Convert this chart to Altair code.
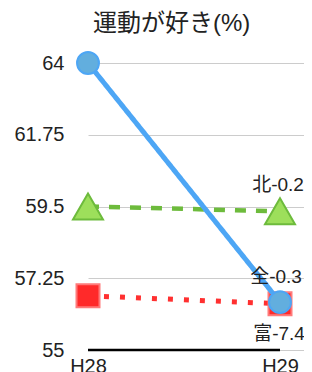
import altair as alt
import pandas as pd

years = ["H28", "H29"]
zen = [64.0, 56.5]
kita = [59.5, 59.35]
tomi = [56.7, 56.45]
labels = {"全": "全-0.3", "北": "北-0.2", "富": "富-7.4"}
y_ticks = [55, 57.25, 59.5, 61.75, 64]

FONT = "Liberation Sans, Noto Sans CJK JP"
idx = list(range(len(years)))


def frame(vals, name):
    return pd.DataFrame({
        "i": idx,
        "year": years,
        "v": vals,
        "series": name,
        "label": ["", labels[name]],
    })


label_expr = f"datum.value == 0 ? '{years[0]}' : '{years[1]}'"

x_enc = alt.X(
    "i:Q",
    scale=alt.Scale(domain=[0, 216 / 192], nice=False, zero=False),
    axis=alt.Axis(values=idx, labelExpr=label_expr, grid=False, domain=False,
                  ticks=False, labelFontSize=20, labelPadding=6, title=None,
                  labelColor="#222", labelFont=FONT, labelFlush=False),
)
y_enc = alt.Y(
    "v:Q",
    scale=alt.Scale(domain=[y_ticks[0], y_ticks[-1]], nice=False, zero=False),
    axis=alt.Axis(values=y_ticks, format=".2~f", grid=True, gridColor="#cccccc",
                  gridWidth=1, domain=False, ticks=False, labelFontSize=20,
                  labelPadding=24, title=None, labelColor="#222", labelFont=FONT),
)


def series_layers(df, color, dash, width, shape, size, fill, stroke, dy, dx):
    base = alt.Chart(df).encode(x=x_enc, y=y_enc)
    line = base.mark_line(color=color, strokeWidth=width, strokeDash=dash,
                          strokeCap="butt")
    pts = base.mark_point(shape=shape, size=size, filled=True, fill=fill,
                          stroke=stroke, strokeWidth=2, opacity=1,
                          fillOpacity=1, strokeOpacity=1)
    txt = base.transform_filter("datum.label != ''").mark_text(
        fontSize=19, font=FONT, dy=dy, dx=dx, color="#222"
    ).encode(text="label:N")
    return [line, pts, txt]


rule_df = pd.DataFrame({"x0": [idx[0]], "x1": [idx[-1]], "y": [y_ticks[0]]})
rule = alt.Chart(rule_df).mark_rule(color="#000000", strokeWidth=2.5).encode(
    x=alt.X("x0:Q"), x2="x1:Q", y=alt.Y("y:Q")
)

layers = []
layers += series_layers(frame(tomi, "富"), "#ff3030", [5, 11], 5, "square", 529,
                        "#ff2a2a", "#ff7a7a", 30, -1)
layers += series_layers(frame(kita, "北"), "#6dbb3c", [11, 10], 4.5, "triangle-up", 900,
                        "#9ddf5b", "#6dbb3c", -26, -2)
layers += series_layers(frame(zen, "全"), "#4da6f5", [1, 0], 5, "circle", 480,
                        "#62aede", "#4da6f5", -25, -4)

chart = alt.layer(rule, *layers).properties(
    width=216,
    height=287,
    padding={"left": 80, "top": 55, "right": 0, "bottom": 22},
    autosize=alt.AutoSizeParams(type="none"),
    title=alt.TitleParams("運動が好き(%)", fontSize=24, fontWeight="normal",
                          anchor="start", frame="group", dx=5, offset=12,
                          color="#222", font=FONT),
).configure_view(stroke=None)

chart.save("out.html", embed_options={"renderer": "svg", "actions": False})
